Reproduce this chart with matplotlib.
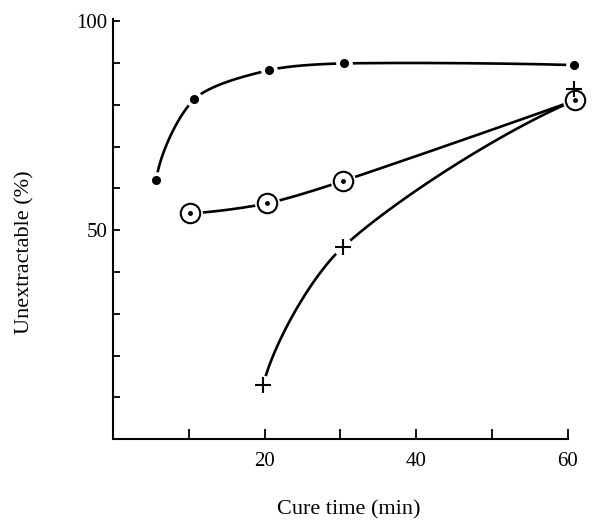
import matplotlib.pyplot as plt
import numpy as np

# Unextractable fraction vs cure time, three series
dot_time = [5.7, 10.7, 20.6, 30.5, 60.8]
dot_pct = [62.0, 81.3, 88.3, 89.9, 89.5]

circle_time = [10.1, 20.3, 30.4, 61.0]
circle_pct = [54.0, 56.4, 61.8, 81.1]

plus_time = [19.8, 30.3, 60.8]
plus_pct = [12.9, 45.9, 83.7]

x_ticks = [10, 20, 30, 40, 50, 60]
x_labels = ['', '20', '', '40', '', '60']
y_ticks = [10, 20, 30, 40, 50, 60, 70, 80, 90, 100]
y_labels = ['', '', '', '', '50', '', '', '', '', '100']


def unit(v):
    return v / np.linalg.norm(v)


def smooth(ax, xs, ys, n=50, k=0.8):
    # Hermite curve through the points in display space; tangents follow
    # the neighbouring points, ends mirrored off the first/last segment
    pts = ax.transData.transform(np.column_stack([xs, ys]))
    m = len(pts)
    d = [None] * m
    for i in range(1, m - 1):
        d[i] = unit(pts[i + 1] - pts[i - 1])
    if m > 2:
        d[0] = unit(2 * unit(pts[1] - pts[0]) - d[1])
        d[-1] = unit(2 * unit(pts[-1] - pts[-2]) - d[-2])
    else:
        d[0] = d[-1] = unit(pts[1] - pts[0])
    t = np.linspace(0, 1, n)[:, None]
    h00 = 2 * t ** 3 - 3 * t ** 2 + 1
    h10 = t ** 3 - 2 * t ** 2 + t
    h01 = -2 * t ** 3 + 3 * t ** 2
    h11 = t ** 3 - t ** 2
    out = []
    for i in range(m - 1):
        L = np.linalg.norm(pts[i + 1] - pts[i])
        out.append(h00 * pts[i] + h10 * d[i] * L * k + h01 * pts[i + 1] + h11 * d[i + 1] * L * k)
    out = np.vstack(out)
    data = ax.transData.inverted().transform(out)
    return data[:, 0], data[:, 1]


fig = plt.figure(figsize=(5.92, 5.24), dpi=100)
ax = fig.add_axes([0.191, 0.162, 0.768, 0.8015])
ax.set_xlim(0, 60)
ax.set_ylim(0, 100.5)

serif = 'Liberation Serif'

# the + curve runs into the open-circle point at 60 min, where both curves meet
plus_line_t = plus_time[:-1] + circle_time[-1:]
plus_line_p = plus_pct[:-1] + circle_pct[-1:]

for xs, ys in [(dot_time, dot_pct), (circle_time, circle_pct), (plus_line_t, plus_line_p)]:
    sx, sy = smooth(ax, xs, ys)
    ax.plot(sx, sy, color='black', lw=1.9, clip_on=False, zorder=2, solid_capstyle='round')

# white halos leave small gaps where the curves meet the markers
ax.plot(dot_time, dot_pct, 'o', ms=11, color='white', mec='white', clip_on=False, zorder=3)
ax.plot(circle_time, circle_pct, 'o', ms=17, color='white', mec='white', clip_on=False, zorder=3)
ax.plot(plus_time, plus_pct, 'o', ms=13, color='white', mec='white', clip_on=False, zorder=3)

ax.plot(dot_time, dot_pct, 'o', ms=5.5, color='black', clip_on=False, zorder=4)
ax.plot(circle_time, circle_pct, 'o', ms=14, mfc='white', mec='black', mew=1.5, clip_on=False, zorder=4)
ax.plot(circle_time, circle_pct, 'o', ms=2.5, color='black', clip_on=False, zorder=5)
ax.plot(plus_time, plus_pct, '+', ms=12, mew=1.5, color='black', clip_on=False, zorder=4)

for side in ['top', 'right']:
    ax.spines[side].set_visible(False)
for side in ['left', 'bottom']:
    ax.spines[side].set_linewidth(1.5)

ax.set_xticks(x_ticks)
ax.set_xticklabels(x_labels, family=serif, fontsize=15)
ax.set_yticks(y_ticks)
ax.set_yticklabels(y_labels, family=serif, fontsize=15)
ax.tick_params(axis='x', direction='in', length=7, width=1.3, pad=9)
ax.tick_params(axis='y', direction='in', length=5, width=1.3, pad=4)

ax.set_xlabel('Cure time (min)', family=serif, fontsize=16, va='center')
ax.set_ylabel('Unextractable (%)', family=serif, fontsize=16, va='center')
ax.xaxis.set_label_coords(0.519, -0.169)
ax.yaxis.set_label_coords(-0.193, 0.445)

fig.savefig('out.png', dpi=100)
